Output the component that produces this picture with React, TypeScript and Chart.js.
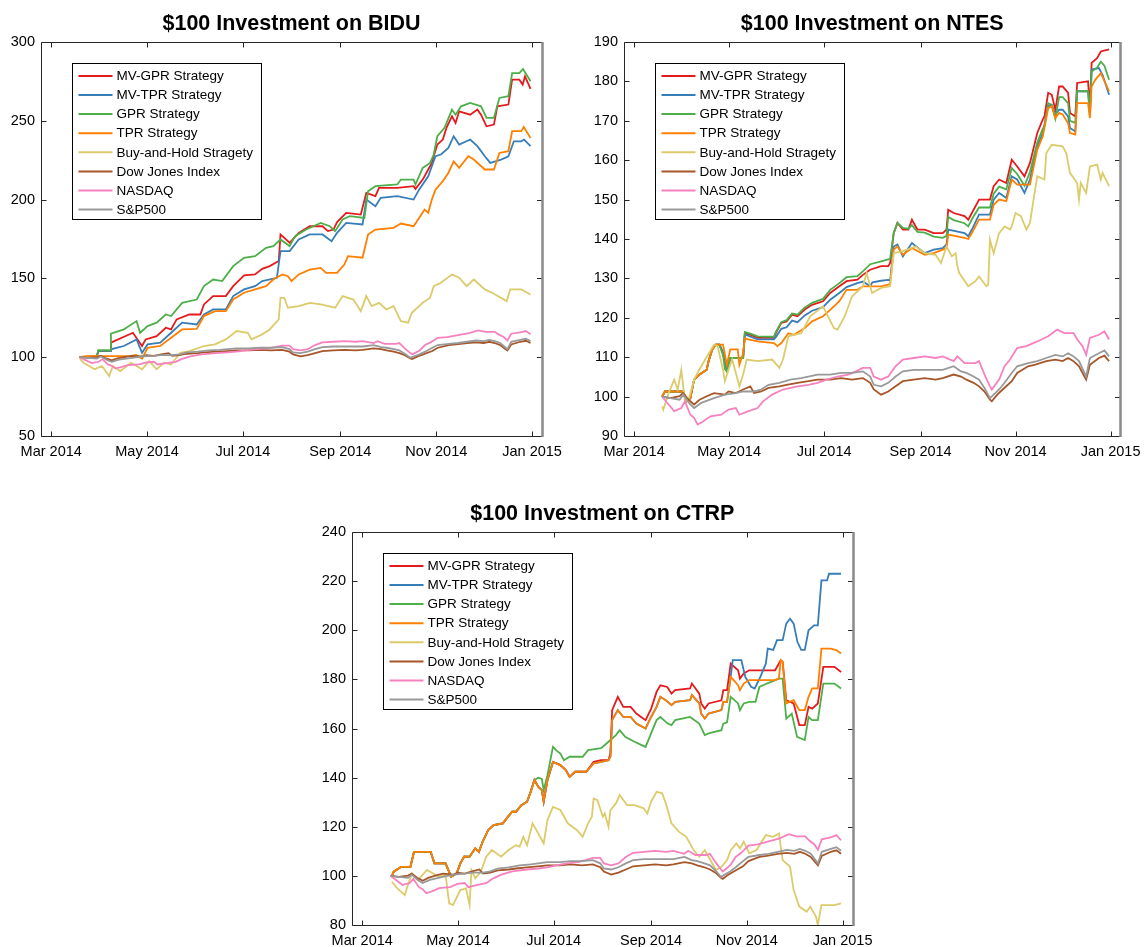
import React, { useEffect, useRef } from "react";
import { Chart, registerables } from "chart.js";

Chart.register(...registerables);

const FONT = "'Liberation Sans', Arial, Helvetica, sans-serif";

// x values are day offsets counted from 2014-03-01
const X_TICK_DAYS = [0, 61, 122, 184, 245, 306];
const X_TICK_LABELS = ["Mar 2014", "May 2014", "Jul 2014", "Sep 2014", "Nov 2014", "Jan 2015"];
const X_MIN = -6.5;
const X_MAX = 312.3;

const SERIES_NAMES = [
  "MV-GPR Strategy",
  "MV-TPR Strategy",
  "GPR Strategy",
  "TPR Strategy",
  "Buy-and-Hold Stragety",
  "Dow Jones Index",
  "NASDAQ",
  "S&P500",
];
const SERIES_COLORS = ["#E41A1C", "#377EB8", "#4DAF4A", "#FF7F00", "#DCCB6B", "#A65628", "#F781BF", "#999999"];

type Pts = [number, number][];

// ---- market indices (same in every panel) ----
const DOW: Pts = [[18,100],[23.3,99.6],[29.2,100.1],[31.5,100.9],[35,99.2],[38.5,98],[42,99.2],[46.6,100.1],[51.3,100.9],[58.3,100.5],[60.6,101.3],[65.3,100.9],[70,101.8],[74.6,102.6],[77,100.9],[81.6,101.3],[86.3,102.2],[93.3,102.6],[97.9,103],[104.9,103.5],[111.9,103.9],[117.8,104.3],[125.9,104.3],[132.9,104.7],[139.9,104.3],[146.9,104.7],[151.6,103.5],[153.9,101.8],[158.6,100.5],[163.2,101.3],[167.9,102.6],[172.6,103.9],[179.6,104.3],[186.6,104.7],[193.6,104.3],[198.2,104.7],[205.2,105.6],[209.9,105.1],[213.4,104.3],[218,103.5],[221.5,102.6],[225,101.3],[228.5,99.2],[229.7,98.8],[233.2,100.5],[236.7,101.8],[242.5,103.9],[246,106],[253,107.7],[257.7,108.1],[264.7,109],[270.5,109.4],[275.2,109],[278.7,109.8],[282.2,109],[285.7,107.7],[289.2,105.1],[290.3,104.3],[292.7,108.1],[298.5,109.8],[302,110.4],[305,109]];
const NASDAQ: Pts = [[18,100],[22.2,98],[25.7,96.3],[30.3,97.1],[32.6,98.8],[36.1,95.4],[38.5,94.6],[40.8,92.9],[44.3,93.7],[49,95],[56,95.4],[60.6,96.7],[65.3,97.1],[67.6,95.4],[73.5,96.3],[79.3,97.1],[82.8,98.8],[88.6,100.5],[95.6,101.8],[104.9,102.6],[111.9,103],[117.8,103.5],[123.6,104.3],[130.6,105.1],[137.6,105.6],[142.3,106.4],[146.9,107.3],[151.6,107.3],[153.9,105.1],[158.6,104.3],[163.2,105.1],[167.9,107.7],[172.6,109.4],[179.6,109.8],[186.6,110.2],[193.6,109.8],[198.2,110.2],[205.2,109],[207.6,110.2],[212.2,108.5],[219.2,108.5],[221.5,109],[225,105.6],[228.5,102.6],[229.7,101.8],[234.4,104.3],[237.9,107.7],[241.4,109.4],[246,112.3],[251.9,112.8],[258.9,114],[265.9,115.3],[271.7,117],[276.4,116.1],[282.2,116.1],[284.6,114.5],[288,112.8],[290.3,110.6],[292.7,114.9],[298.5,115.7],[302,116.6],[305,114.5]];
const SP500: Pts = [[18,100],[23.3,99.6],[29.2,99.2],[31.5,100.5],[36.1,98],[38.5,97.1],[43.1,98.4],[51.3,99.6],[58.3,100.5],[65.3,100.9],[70,101.3],[77,101.3],[81.6,101.8],[86.3,103],[93.3,103.5],[100.3,104.3],[107.3,104.7],[117.8,105.6],[125.9,105.6],[132.9,106],[139.9,106],[146.9,106.4],[151.6,105.1],[153.9,103],[158.6,102.6],[163.2,103.5],[167.9,105.1],[172.6,106.4],[179.6,106.8],[193.6,106.8],[198.2,106.8],[205.2,107.7],[209.9,106.4],[213.4,106],[218,105.1],[221.5,104.3],[225,102.2],[228.5,99.6],[230.9,100.5],[234.4,101.8],[237.9,103.5],[242.5,106],[246,107.7],[253,108.5],[258.9,109],[264.7,109.8],[270.5,110.6],[275.2,110.2],[278.7,111],[282.2,110.2],[285.7,109],[289.2,106],[290.3,105.1],[292.7,109.8],[298.5,111],[302,111.7],[305,110.2]];

// ---- BIDU ----
const BIDU_MVGPR: Pts = [[18,100],[29,100.5],[30,104],[37.5,104],[38,109.2],[52,115.5],[57.8,107.1],[60.1,111.3],[67.1,113.4],[72.9,118.7],[76.3,117.6],[79.8,124],[87.9,127.1],[94.9,127.1],[97.2,133.5],[103,138.8],[111.1,138.8],[115.8,145.1],[122.7,151.9],[129.7,152.5],[134.3,156.1],[139,157.8],[144.8,161],[145.9,177.9],[151.7,172.6],[157.5,178.9],[164.5,183.1],[172.6,183.1],[176.1,180],[179.6,181],[181.9,185.7],[187.7,191.6],[197,190.5],[200.5,204.3],[206.3,202.2],[208.6,207.4],[220.2,207.4],[230.6,208.5],[231.8,206.8],[236.4,212.7],[239.9,219.1],[242.2,223.3],[243.4,227.5],[245.7,234.9],[249.2,238.1],[251.5,245.5],[255,252.9],[257.3,248.6],[259.6,256],[266.6,253.9],[271.2,257.1],[273.5,253.9],[277,246.5],[281.7,247.6],[283.9,259.2],[290.9,260.3],[293.3,276.1],[297.9,276.1],[300,273],[301.5,278.2],[305,270.2]];
const BIDU_MVTPR: Pts = [[18,100],[29,100.5],[30,104],[37.5,104],[38,105],[46.2,107.1],[54.3,111.3],[57.8,102.8],[61.3,108.1],[69.4,109.2],[76.3,115.5],[83.3,121.9],[92.6,120.8],[97.2,127.1],[103,130.3],[111.1,130.3],[115.8,138.8],[122.7,143],[129.7,145.1],[134.3,148.3],[143.6,150.4],[145.9,167.3],[151.7,167.3],[157.5,174.7],[164.5,177.9],[172.6,177.9],[178.4,173.6],[181.9,178.9],[187.7,185.2],[198.1,184.2],[200.5,200],[206.3,195.8],[209.7,201.1],[220.2,202.2],[230.6,200],[234.1,206.3],[239.9,214.8],[244.5,227.5],[248,228.6],[252.7,232.8],[256.1,240.2],[259.6,234.9],[266.6,238.1],[271.2,233.9],[275.9,227.5],[279.4,223.3],[286.3,225.4],[290.9,227.5],[294.4,237],[299.1,237],[300.9,238.1],[305,233.9]];
const BIDU_GPR: Pts = [[18,100],[29,100.5],[30,104.4],[37.5,104.4],[38,114.9],[46.2,117.6],[54.3,122.9],[56.6,115.5],[61.3,119.7],[67.1,121.9],[72.9,127.1],[76.3,126.1],[83.3,134.5],[92.6,136.6],[97.2,145.1],[103,149.3],[108.8,148.3],[115.8,157.8],[122.7,163.1],[129.7,164.1],[136.7,169.4],[141.3,170.5],[145.9,174.7],[151.7,170.5],[155.2,176.8],[162.2,181],[171.5,185.2],[177.3,183.1],[180.7,180],[185.4,187.4],[190,189.5],[199.3,188.4],[201.6,205.3],[206.3,208.5],[220.2,209.6],[222.5,212.7],[230.6,212.7],[231.8,209.6],[236.4,220.1],[241.1,223.3],[243.4,228.6],[245.7,240.2],[250.3,245.5],[255,257.1],[257.3,253.9],[260.8,259.2],[266.6,261.3],[273.5,259.2],[277,251.8],[281.7,251.8],[285.2,264.5],[290.9,265.6],[293.3,280.3],[297.9,280.3],[300.2,282.9],[305,275.1]];
const BIDU_TPR: Pts = [[18,100],[22,100.7],[50,100.7],[54,101.5],[57.8,99],[61.3,106],[69.4,107.1],[76.3,112.3],[83.3,117.6],[92.6,118],[97.2,126.1],[104.2,129.2],[111.1,129.2],[115.8,136.6],[122.7,140.9],[129.7,143],[136.7,145.1],[141.3,149.3],[147.1,152.5],[150.6,151.4],[152.9,148.3],[157.5,152.5],[164.5,155.6],[171.5,156.7],[174.9,153.5],[181.9,153.5],[186.5,158.8],[188.9,164.1],[198.1,163.1],[201.6,177.9],[206.3,181],[217.9,182.1],[222.5,184.8],[230.6,183.1],[234.1,188.4],[237.6,193.7],[239.9,191.6],[242.2,200],[244.5,206.3],[249.2,211.7],[252.7,216.9],[256.1,224.3],[259.6,220.1],[265.4,227.5],[268.9,225.4],[275.9,219.1],[281.7,219.1],[285.2,229.6],[290.9,230.7],[293.3,243.4],[299.1,243.4],[300.7,246.1],[305,239.1]];
const BIDU_BH: Pts = [[18,100],[19,98],[20.6,96.5],[27.6,92.3],[32.3,94.4],[36.9,88],[39.2,94.4],[43.9,91.2],[50.8,96.5],[57.8,92.3],[62.4,97.5],[67.1,92.3],[71.7,96.5],[76.3,95.4],[82.1,102.8],[87.9,103.9],[97.2,107.1],[104.2,108.1],[111.1,111.3],[118.1,116.6],[125.1,115.5],[127.4,111.3],[134.3,114.5],[139,117.6],[144.8,124],[145.9,137.7],[148.3,137.7],[150.6,131.4],[157.5,132.4],[164.5,134.5],[171.5,133.5],[180.7,131.4],[185.4,138.8],[192.3,136.6],[197,129.2],[200.5,138.8],[203.9,132.4],[208.6,134.5],[213.2,130.3],[217.9,132.4],[222.5,122.9],[227.1,121.9],[229.5,128.2],[236.4,134.5],[241.1,137.7],[243.4,145.1],[248,147.2],[255,152.5],[259.6,150.4],[264.3,145.1],[268.9,149.3],[275.9,143],[280.5,140.9],[289.8,135.6],[292.1,143],[299.1,143],[305,139.8]];

// ---- NTES ----
const NTES_MVGPR: Pts = [[18,100],[19.8,101.3],[31.5,101.3],[33.8,98.8],[36.1,99.6],[38.5,104.3],[42,105.6],[46.6,106.8],[47.8,109],[50.1,111.9],[52.5,113.2],[54.8,113.2],[57.1,111.1],[58.3,108.5],[59.5,106.8],[61.8,109.8],[70,109.8],[71.1,116.1],[74.6,115.7],[79.3,114.9],[89.8,114.9],[91,116.1],[94.5,118.7],[97.9,119.1],[101.4,120.8],[104.9,120.4],[109.6,122.1],[114.3,123.3],[121.3,124.2],[125.9,126.3],[131.8,128],[136.4,129.3],[143.4,129.7],[146.9,130.9],[151.6,132.2],[158.6,133.1],[163.2,133.1],[164.4,133.9],[166.7,141.5],[169.1,144.1],[172.6,142.4],[176.1,142.4],[178.4,144.9],[181.9,142.4],[186.6,142.4],[192.4,141.5],[198.2,141.5],[200.6,142.4],[201.7,147.4],[205.2,146.6],[212.2,145.8],[214.6,144.9],[216.9,146.6],[221.5,150],[228.5,150],[230.9,153.4],[234.4,155.1],[239,154.2],[242.5,160.1],[246,158.4],[250.7,155.9],[254.2,159.3],[258.9,166.9],[262.4,170.3],[263.5,171.1],[265.9,177.1],[268.2,176.6],[270.5,172.8],[272.9,178.7],[275.2,178.7],[278.7,177.1],[279.9,172],[283.3,171.1],[284.5,179.6],[291.5,180],[292.7,173.2],[293.8,184.7],[297.3,185.9],[299.7,187.6],[305,188.1]];
const NTES_MVTPR: Pts = [[18,100],[19.8,101.3],[31.5,101.3],[33.8,98.8],[36.1,99.6],[38.5,104.3],[42,105.6],[46.6,106.8],[47.8,109],[50.1,111.9],[52.5,113.2],[54.8,113.2],[57.1,111.1],[58.3,108.5],[59.5,106.8],[61.8,109.8],[70,109.8],[71.1,115.8],[79.3,114.5],[89.8,114.5],[91,115.1],[94.5,117.2],[97.9,117.6],[101.4,119.3],[104.9,118.9],[109.6,120.6],[114.3,121.8],[121.3,122.7],[125.9,124.6],[131.8,126.3],[136.4,127.8],[143.4,128.8],[146.9,129.2],[151.6,128],[153,129],[158.6,129.4],[163.2,129.6],[164.4,129.4],[166.7,138.1],[169.1,138.6],[172.6,135.6],[178.4,139],[186.6,136.4],[192.4,137.3],[198.2,137.7],[200.6,138.6],[201.7,142.4],[212.2,141.5],[214.6,140.7],[216.9,142.4],[221.5,146.2],[228.5,146.2],[230.9,150],[234.4,151.7],[239,150.4],[242.5,155.9],[246,155.1],[250.7,151.7],[254.2,155.1],[258.9,163.5],[262.4,166.9],[265.9,173.7],[268.2,174.1],[270.5,171.6],[272.9,172.8],[275.2,172.8],[278.7,171.1],[279.9,168.2],[283.3,167.3],[284.5,177.5],[291.5,177.5],[292.7,171.6],[293.8,183],[298.5,183.4],[301,181.5],[305,176.6]];
const NTES_GPR: Pts = [[18,100],[19.8,101.3],[31.5,101.3],[33.8,98.8],[36.1,99.6],[38.5,104.3],[42,105.6],[46.6,106.8],[47.8,109],[50.1,111.9],[52.5,113.2],[54.8,113.2],[57.1,110.5],[58.3,107],[59.5,106.4],[61.8,109.8],[70,109.8],[71.1,116.4],[74.6,116],[79.3,115.3],[89.8,115.2],[91,116.4],[94.5,118.9],[97.9,119.4],[101.4,121.1],[104.9,120.8],[109.6,122.6],[114.3,123.8],[121.3,124.8],[125.9,127.1],[131.8,128.8],[136.4,130.3],[143.4,130.6],[146.9,131.8],[151.6,133.6],[158.6,134.3],[163.2,134.8],[164.4,135],[166.7,141.5],[169.1,144.1],[172.6,142.8],[176.1,142.6],[178.4,143.5],[181.9,141.8],[186.6,141.6],[192.4,140.6],[198.2,140.3],[200.6,140.8],[201.7,145.6],[205.2,144.8],[212.2,144],[214.6,143.2],[216.9,145],[221.5,148],[228.5,148],[230.9,151.5],[234.4,153.3],[239,152.6],[242.5,158],[246,156.5],[250.7,153.5],[254.2,157],[258.9,164.5],[262.4,168],[263.5,168.5],[265.9,174.5],[268.2,174],[270.5,170.5],[272.9,176],[275.2,176],[278.7,174.5],[279.9,170],[283.3,169.5],[284.5,177.5],[291.5,177.5],[292.7,171.5],[293.8,182.5],[297.3,183.5],[299.7,185],[302,184],[305,180.4]];
const NTES_TPR: Pts = [[18,100],[19.8,101.3],[31.5,101.3],[33.8,98.8],[36.1,99.6],[38.5,104.3],[42,105.6],[46.6,106.8],[47.8,109],[50.1,111.9],[52.5,113.2],[57.1,113.2],[59.5,108.1],[61.8,112],[66.5,112],[67.6,108.1],[70,111],[71.1,114.7],[79.3,114],[89.8,113.6],[92,112.8],[94.5,113.6],[99.1,116.1],[102.6,115.7],[109.6,117.4],[114.3,119.1],[121.3,120.4],[125.9,122],[131.8,124.2],[136.4,127.1],[143.4,127.1],[146.9,128],[151.6,128],[158.6,128],[163.2,128.4],[164.4,128.6],[166.7,137.3],[169.1,138.1],[172.6,136],[178.4,137.7],[186.6,136],[192.4,136.4],[198.2,137.3],[200.6,137.7],[201.7,141.1],[212.2,140.3],[214.6,140],[216.9,141.5],[221.5,144.9],[228.5,144.9],[230.9,148.7],[234.4,150],[239,149.6],[242.5,155.1],[246,153.8],[254.2,153.8],[258.9,162.7],[262.4,166],[265.9,173.2],[268.2,173.7],[270.5,170.7],[272.9,172],[275.2,171.6],[278.7,169.4],[279.9,166.9],[283.3,166.5],[284.5,174.5],[291.5,174.5],[292.7,170.7],[293.8,178.7],[296.1,180.4],[299.7,182.1],[305,177.5]];
const NTES_BH: Pts = [[18,97.5],[18.7,96.7],[22.2,100.9],[25.7,104.3],[28,101.8],[30.3,106.8],[32.6,98.8],[35,99.2],[38.5,104.3],[43.1,107.7],[51.3,113.2],[53.6,112.8],[57.1,106.8],[58.3,103.9],[60.6,106.8],[63,109.4],[67.6,102.6],[70,105.6],[72.3,109.4],[79.3,109],[88.6,109.4],[93.3,107.3],[95.6,109.4],[99.1,115.3],[107.3,116.1],[113.1,120.4],[121.3,122.9],[128.3,117.4],[130.6,117],[135.3,120.4],[139.9,125.4],[146.9,128],[149.3,131.4],[152.8,126.3],[158.6,127.6],[164.4,128],[166.7,136.4],[172.6,136.9],[180.7,138.1],[186.6,136.4],[193.6,136],[197.1,133.9],[200.6,138.1],[204.1,135.6],[206.4,136.4],[207.6,133.1],[208.7,131.4],[214.6,128],[219.2,129.3],[221.5,130.5],[226.2,128],[227.4,128.4],[228.5,139.8],[230.9,136.4],[234.4,141.5],[237.9,143.2],[241.4,142.4],[242.5,143.2],[244.9,146.6],[248.4,145.8],[251.9,142.4],[254.2,144.1],[256.5,150],[258.9,155.9],[263.5,155.1],[264.7,161.8],[268.2,163.9],[275.2,163.5],[277.5,161.8],[279.9,156.8],[284.5,154.2],[285.7,150],[286.8,154.2],[290.3,151.7],[292.7,158.4],[297.3,158.9],[299.7,155.1],[300.8,156.8],[305,153.4]];

// ---- CTRP ----
const CTRP_MVGPR: Pts = [[18.9,100],[20.1,101.7],[24.8,103.7],[30.7,103.7],[33,109.8],[43.6,109.8],[46,105.1],[53.1,105.1],[56.6,99.7],[60.2,101],[62.5,105.1],[64.9,107.8],[68.4,107.8],[72,111.2],[74.3,109.8],[76.7,113.9],[80.2,118.6],[83.7,120.7],[89.6,121.4],[92,123.4],[95.5,126.1],[97.9,126.1],[101.4,128.8],[105,130.2],[107.3,134.2],[109.7,139],[112.1,136.3],[114.4,134.9],[115.6,130.2],[118,139],[121.5,146.4],[126.2,145.1],[129.7,143.1],[132.1,140.3],[135.6,142.4],[142.7,142.4],[147.4,146.4],[152.2,147.1],[156.9,147.1],[158.1,150],[159.2,167.5],[162.8,172.9],[166.3,168.8],[171,168.8],[174.6,166.1],[180.5,163.4],[184,168],[187.5,174.9],[189.9,177.6],[194.3,176.9],[197,174.2],[199.3,175.6],[208.8,176.3],[210,178.3],[214.7,174.2],[215.9,170.2],[218.2,168.1],[220.6,170.2],[228.8,171.5],[230,175.6],[232.4,175.6],[234.7,186.4],[239.4,183.7],[240.6,180.3],[243,182.4],[246.5,183.7],[263,183.7],[266.6,187.8],[267.8,187.1],[270.1,171.5],[274.8,170.2],[278.4,161.4],[281.9,161.4],[284.3,168.8],[286.6,168.1],[290.2,170.2],[293.7,185.1],[300.8,185.1],[305,183]];
const CTRP_MVTPR: Pts = [[18.9,100],[20.1,101.7],[24.8,103.7],[30.7,103.7],[33,109.8],[43.6,109.8],[46,105.1],[53.1,105.1],[56.6,99.7],[60.2,101],[62.5,105.1],[64.9,107.8],[68.4,107.8],[72,111.2],[74.3,109.8],[76.7,113.9],[80.2,118.6],[83.7,120.7],[89.6,121.4],[92,123.4],[95.5,126.1],[97.9,126.1],[101.4,128.8],[105,130.2],[107.3,134.2],[109.7,139],[112.1,136.3],[114.4,134.9],[115.6,130.2],[118,139],[121.5,146.4],[126.2,145.1],[129.7,143.1],[132.1,140.3],[135.6,142.4],[142.7,142.4],[147.4,145.8],[152.2,146.4],[156.9,147.1],[158.1,148.5],[159.2,163.4],[162.8,167.5],[166.3,164.7],[171,164.7],[174.6,162],[180.5,160],[184,164.7],[187.5,168.8],[189.9,172.9],[193.4,171.5],[197,169.5],[199.3,170.8],[208.8,171.5],[210,173.6],[214.7,170.2],[215.9,166.1],[218.2,164.1],[220.6,166.1],[228.8,167.5],[230,170.8],[232.4,170.8],[234.7,181],[236,187.8],[241.5,187.8],[244,181],[247.7,177],[250,176.3],[253.6,181],[257.1,186.4],[258.3,192.5],[261.8,192],[264.2,196],[267.8,196],[270.1,202.7],[272.5,204.7],[274.8,202.7],[277.2,195.3],[279.6,192],[281.9,192],[284.3,200],[287.8,202],[290.2,202],[292.5,220.3],[296.1,220.3],[297.3,223],[305,223]];
const CTRP_GPR: Pts = [[18.9,100],[20.1,101.7],[24.8,103.7],[30.7,103.7],[33,109.8],[43.6,109.8],[46,105.1],[53.1,105.1],[56.6,99.7],[60.2,101],[62.5,105.1],[64.9,107.8],[68.4,107.8],[72,111.2],[74.3,109.8],[76.7,113.9],[80.2,118.6],[83.7,120.7],[89.6,121.4],[92,123.4],[95.5,126.1],[97.9,126.1],[101.4,128.8],[105,130.2],[107.3,134.2],[109.7,139],[112.1,140],[114.4,139.5],[115.6,135],[118,141],[121.5,152.5],[123.8,151],[126.2,149.8],[128.5,147.1],[132.1,148.5],[140.4,148.5],[143.9,151.2],[152.2,152],[156.9,154.6],[161.6,157.3],[164,159.3],[167.5,156.6],[173.4,154.6],[180.5,152.5],[184,158],[187.5,163.4],[189.9,164.7],[194.6,162],[197,161.4],[199.3,163.4],[208.8,164.7],[214.7,162],[218.2,157.3],[220.6,158],[228.8,159.3],[230,162],[232.4,162.5],[234.7,172.9],[239.4,170.2],[240.6,167.5],[243,170.2],[246.5,170.8],[250.5,170.8],[253,176.9],[257.7,178.3],[265.4,180.3],[267.8,180.3],[270.1,164],[273.6,166],[277,156.6],[281.9,155.3],[284.3,164.7],[286.6,163.4],[290.2,163.4],[293.7,178.3],[300.8,178.3],[305,176.3]];
const CTRP_TPR: Pts = [[18.9,100],[20.1,101.7],[24.8,103.7],[30.7,103.7],[33,109.8],[43.6,109.8],[46,105.1],[53.1,105.1],[56.6,99.7],[60.2,101],[62.5,105.1],[64.9,107.8],[68.4,107.8],[72,111.2],[74.3,109.8],[76.7,113.9],[80.2,118.6],[83.7,120.7],[89.6,121.4],[92,123.4],[95.5,126.1],[97.9,126.1],[101.4,128.8],[105,130.2],[107.3,134.2],[109.7,139],[112.1,136.3],[114.4,134.9],[115.6,130.2],[118,139],[121.5,146.4],[126.2,145.1],[129.7,143.1],[132.1,140.3],[135.6,142.4],[142.7,142.4],[147.4,145.8],[152.2,146.4],[156.9,147.1],[158.1,148.5],[159.2,163.4],[162.8,167.5],[166.3,164.7],[171,164.7],[174.6,162],[180.5,160],[184,164.7],[187.5,168.8],[189.9,172.9],[193.4,171.5],[197,169.5],[199.3,170.8],[208.8,171.5],[210,173.6],[214.7,170.2],[215.9,166.1],[218.2,164.1],[220.6,166.1],[228.8,167.5],[230,170.8],[232.4,170.8],[234.7,181],[239.4,177.6],[240.6,175.6],[243,178.3],[246.5,179.7],[263,179.7],[265.4,180.3],[266.6,187.8],[267.8,187.1],[270.1,170.2],[274.8,171.5],[278.4,167.5],[281.9,167.5],[284.3,172.9],[286.6,176.3],[290.2,176.3],[292.5,192.5],[298.4,192.5],[302,191.9],[305,190.5]];
const CTRP_BH: Pts = [[18.9,97.6],[22.4,94.9],[25.9,92.9],[27.1,92.2],[29.5,97.1],[31.8,101],[35.4,98.3],[41.3,102.4],[48.4,99.7],[53.1,100.3],[55.4,88.8],[57.8,88.1],[62.5,94.2],[66.1,94.9],[68.4,88.1],[69.6,102.4],[72,99],[75.5,101.7],[79,107.8],[82.6,110.5],[88.5,107.8],[93.2,110.5],[97.9,112.5],[100.3,111.9],[102.6,115.9],[105,112.5],[108.5,121.4],[112.1,117.3],[115.6,113.2],[118,122.7],[121.5,128.1],[126.2,126.8],[130.9,121.4],[136.8,118.6],[140.4,115.9],[143.9,121.4],[146.3,124.1],[147.4,131.5],[149.8,130.8],[153.3,124.1],[154.5,125.4],[156.9,120],[158.1,126.8],[161.6,129.5],[164,132.9],[168.7,128.8],[173.4,128.8],[179.3,127.5],[181.6,125.4],[184,130.2],[187.5,134.2],[191.1,133.6],[193.4,129.5],[197,121.4],[201.7,118],[206.4,115.9],[211.1,110.5],[214.7,107.8],[218.2,110.5],[220.6,107.8],[225.3,102.4],[228.8,103.7],[232.4,106.4],[234.7,110.5],[238.3,113.2],[240.6,111.2],[243,113.9],[246.5,109.2],[251.2,110.5],[257.1,116.6],[261.8,115.9],[265.4,117.3],[267.8,106.4],[272.5,103.7],[274.8,94.2],[278.4,87.5],[283.1,85.4],[285.4,87.5],[289,83.4],[290.2,80],[292.5,88.1],[300.8,88.1],[305,88.8]];

// y-axis settings per panel
const BIDU_Y = { min: 50, max: 300, step: 50 };
const NTES_Y = { min: 90, max: 190, step: 10 };
const CTRP_Y = { min: 80, max: 240, step: 20 };

const decorPlugin = {
  id: "decor",
  afterDraw(chart: any) {
    const ctx = chart.ctx;
    const a = chart.chartArea;
    const xs = chart.scales.x;
    const ys = chart.scales.y;
    ctx.save();
    const L = Math.round(a.left) + 0.5;
    const T = Math.round(a.top) + 0.5;
    const B = Math.round(a.bottom) + 0.5;
    const R = Math.round(a.right);
    ctx.lineWidth = 1;
    ctx.strokeStyle = "#262626";
    ctx.beginPath();
    for (const d of X_TICK_DAYS) {
      const px = Math.round(xs.getPixelForValue(d)) + 0.5;
      ctx.moveTo(px, B);
      ctx.lineTo(px, B - 5);
      ctx.moveTo(px, T);
      ctx.lineTo(px, T + 5);
    }
    for (const t of ys.ticks) {
      const py = Math.round(ys.getPixelForValue(t.value)) + 0.5;
      ctx.moveTo(L, py);
      ctx.lineTo(L + 5, py);
      ctx.moveTo(R, py);
      ctx.lineTo(R - 5, py);
    }
    ctx.stroke();
    ctx.beginPath();
    ctx.moveTo(L, B);
    ctx.lineTo(L, T);
    ctx.lineTo(R, T);
    ctx.moveTo(L, B);
    ctx.lineTo(R, B);
    ctx.stroke();
    ctx.strokeStyle = "#8a8a8a";
    ctx.lineWidth = 2.5;
    ctx.beginPath();
    ctx.moveTo(R + 0.5, T - 0.5);
    ctx.lineTo(R + 0.5, B + 0.5);
    ctx.stroke();

    // legend box
    const bx = Math.round(a.left + 31) + 0.5;
    const by = Math.round(a.top + 21) + 0.5;
    const bw = 189;
    const bh = 156;
    ctx.fillStyle = "#ffffff";
    ctx.fillRect(bx, by, bw, bh);
    ctx.strokeStyle = "#000000";
    ctx.lineWidth = 1;
    ctx.strokeRect(bx, by, bw, bh);
    ctx.font = `13.5px ${FONT}`;
    ctx.textBaseline = "middle";
    ctx.textAlign = "left";
    chart.data.datasets.forEach((ds: any, i: number) => {
      const y = by + 12.4 + i * 19.1;
      ctx.strokeStyle = ds.borderColor;
      ctx.lineWidth = 2;
      ctx.beginPath();
      ctx.moveTo(bx + 6, y);
      ctx.lineTo(bx + 40, y);
      ctx.stroke();
      ctx.fillStyle = "#000000";
      ctx.fillText(ds.label, bx + 44, y + 0.5);
    });
    ctx.restore();
  },
};

type PanelProps = {
  title: string;
  series: Pts[];
  yAxis: { min: number; max: number; step: number };
  left: number;
  top: number;
  width: number;
  height: number;
  yWidth: number;
  padRight: number;
  xHeight: number;
  padBottom: number;
};

function Panel(p: PanelProps) {
  const ref = useRef<HTMLCanvasElement | null>(null);
  useEffect(() => {
    if (!ref.current) return;
    const datasets = p.series.map((pts, i) => ({
      label: SERIES_NAMES[i],
      data: pts.map(([x, y]) => ({ x, y })),
      borderColor: SERIES_COLORS[i],
      backgroundColor: SERIES_COLORS[i],
      borderWidth: 1.8,
      pointRadius: 0,
      tension: 0,
      fill: false,
      order: SERIES_NAMES.length - i,
    }));
    const chart = new Chart(ref.current, {
      type: "line",
      data: { datasets },
      options: {
        responsive: false,
        animation: false,
        devicePixelRatio: 1,
        layout: {
          autoPadding: false,
          padding: { left: 0, right: p.padRight, top: 0, bottom: p.padBottom },
        },
        plugins: {
          legend: { display: false },
          tooltip: { enabled: false },
          title: {
            display: true,
            text: p.title,
            fullSize: false,
            color: "#000000",
            font: { family: FONT, size: 21.5, weight: "bold" },
            padding: { top: 11, bottom: 5.2 },
          },
        },
        scales: {
          x: {
            type: "linear",
            min: X_MIN,
            max: X_MAX,
            grid: { display: false, drawTicks: false },
            border: { display: false },
            afterBuildTicks: (s: any) => {
              s.ticks = X_TICK_DAYS.map((v) => ({ value: v }));
            },
            afterFit: (s: any) => {
              s.height = p.xHeight;
            },
            ticks: {
              autoSkip: false,
              maxRotation: 0,
              padding: 7,
              color: "#000000",
              font: { family: FONT, size: 14.5 },
              callback: (_v: any, i: number) => X_TICK_LABELS[i],
            },
          },
          y: {
            type: "linear",
            min: p.yAxis.min,
            max: p.yAxis.max,
            grid: { display: false, drawTicks: false },
            border: { display: false },
            afterFit: (s: any) => {
              s.width = p.yWidth;
            },
            ticks: {
              stepSize: p.yAxis.step,
              padding: 6,
              color: "#000000",
              font: { family: FONT, size: 14.5 },
            },
          },
        },
      } as any,
      plugins: [decorPlugin],
    });
    return () => chart.destroy();
  }, []);
  return (
    <div style={{ position: "absolute", left: p.left, top: p.top, width: p.width, height: p.height }}>
      <canvas ref={ref} width={p.width} height={p.height} style={{ width: p.width, height: p.height, display: "block" }} />
    </div>
  );
}

export default function App() {
  useEffect(() => {
    document.body.style.margin = "0";
    document.body.style.overflow = "hidden";
    document.body.style.background = "#ffffff";
  }, []);
  return (
    <div style={{ position: "relative", width: 1148, height: 947, background: "#ffffff" }}>
      <Panel
        title="$100 Investment on BIDU"
        series={[BIDU_MVGPR, BIDU_MVTPR, BIDU_GPR, BIDU_TPR, BIDU_BH, DOW, NASDAQ, SP500]}
        yAxis={BIDU_Y}
        left={0}
        top={0}
        width={572}
        height={470}
        yWidth={41}
        padRight={30}
        xHeight={28}
        padBottom={6}
      />
      <Panel
        title="$100 Investment on NTES"
        series={[NTES_MVGPR, NTES_MVTPR, NTES_GPR, NTES_TPR, NTES_BH, DOW, NASDAQ, SP500]}
        yAxis={NTES_Y}
        left={575}
        top={0}
        width={573}
        height={470}
        yWidth={49}
        padRight={25}
        xHeight={28}
        padBottom={6}
      />
      <Panel
        title="$100 Investment on CTRP"
        series={[CTRP_MVGPR, CTRP_MVTPR, CTRP_GPR, CTRP_TPR, CTRP_BH, DOW, NASDAQ, SP500]}
        yAxis={CTRP_Y}
        left={300}
        top={490}
        width={580}
        height={457}
        yWidth={52}
        padRight={27}
        xHeight={22}
        padBottom={0}
      />
    </div>
  );
}
